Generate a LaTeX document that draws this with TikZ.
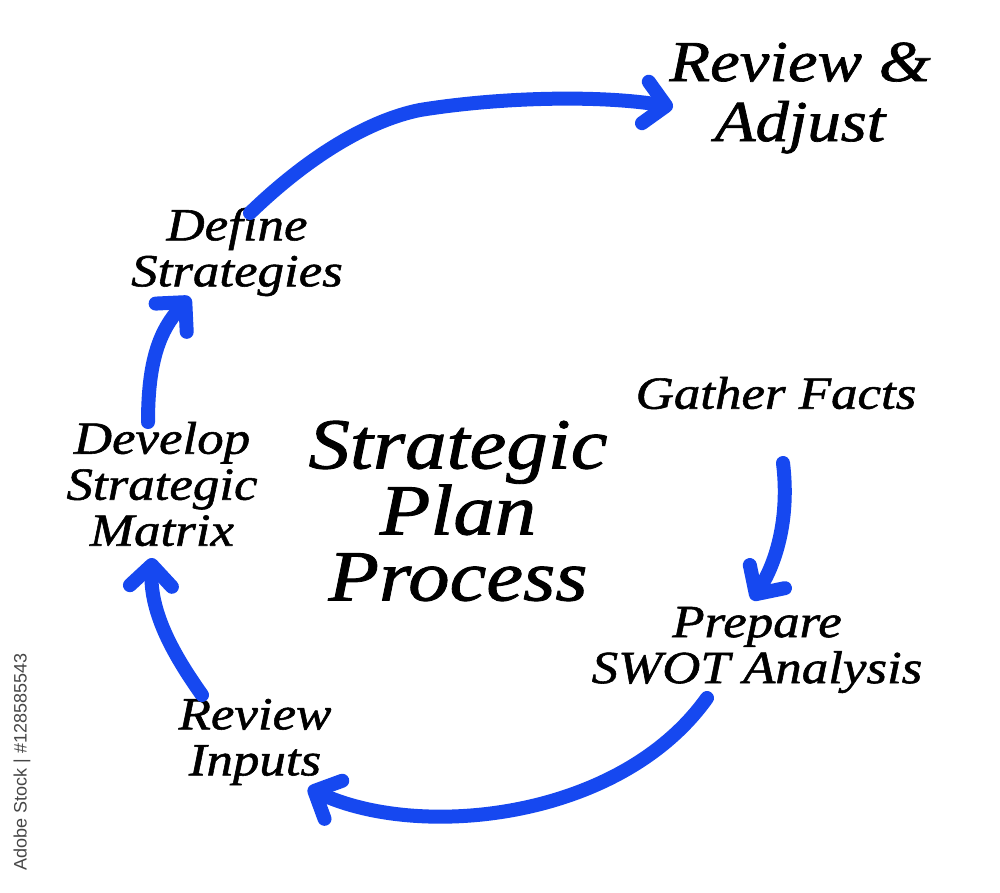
\documentclass[tikz,border=0pt]{standalone}
\usepackage{fontspec}
\newfontfamily\hand{Liberation Serif}[FakeStretch=1.15,FakeBold=1.2]
\newfontfamily\wmfont{Liberation Sans}
\usetikzlibrary{arrows.meta}
\definecolor{arrowblue}{RGB}{22,72,240}
\definecolor{wmgray}{RGB}{70,70,70}
\tikzset{
  lbl/.style={align=center, inner sep=0pt, font=\hand\itshape\fontsize{46}{46}\selectfont},
  bigl/.style={align=center, inner sep=0pt, font=\hand\itshape\fontsize{58}{60}\selectfont},
  titl/.style={align=center, inner sep=0pt, font=\hand\itshape\fontsize{72}{66}\selectfont},
  flow/.style={draw=arrowblue, line width=14pt, line cap=round,
    -{Straight Barb[round,length=21pt,width=42pt]}}
}
\begin{document}
\begin{tikzpicture}[x=1pt,y=-1pt]
\useasboundingbox (0,0) rectangle (1000,893);
\fill[white] (0,0) rectangle (1000,893);
% labels
\node[bigl] (adjust) at (800,98) {Review \&\\Adjust};
\node[lbl] (define) at (237,252) {Define\\Strategies};
\node[lbl] (matrix) at (162,484) {Develop\\Strategic\\Matrix};
\node[titl] (title) at (458,511) {Strategic\\Plan\\Process};
\node[lbl] (facts) at (776,393) {Gather Facts};
\node[lbl] (swot) at (757,650) {Prepare\\SWOT Analysis};
\node[lbl] (inputs) at (255,742) {Review\\Inputs};
\node[font=\wmfont\fontsize{18}{18}\selectfont, text=wmgray, rotate=90, inner sep=0pt] (wm) at (22,762) {Adobe Stock | \#128585543};
% connector end points
\coordinate (a1s) at (250,213);
\coordinate (a1e) at (673,107);
\coordinate (a2s) at (783,463);
\coordinate (a2e) at (752,600);
\coordinate (a3s) at (707,698);
\coordinate (a3e) at (308,788);
\coordinate (a4s) at (202,695);
\coordinate (a4e) at (152,558);
\coordinate (a5s) at (148,422);
\coordinate (a5e) at (190,297);
% connectors
\draw[flow] (a1s) .. controls (310,155) and (370,120) .. (420,110) .. controls (500,97) and (600,95) .. (a1e);
\draw[flow] (a2s) .. controls (790,520) and (775,565) .. (a2e);
\draw[flow] (a3s) .. controls (620,820) and (420,840) .. (a3e);
\draw[flow] (a4s) .. controls (170,650) and (150,610) .. (a4e);
\draw[flow] (a5s) .. controls (148,360) and (160,330) .. (a5e);
\end{tikzpicture}
\end{document}
